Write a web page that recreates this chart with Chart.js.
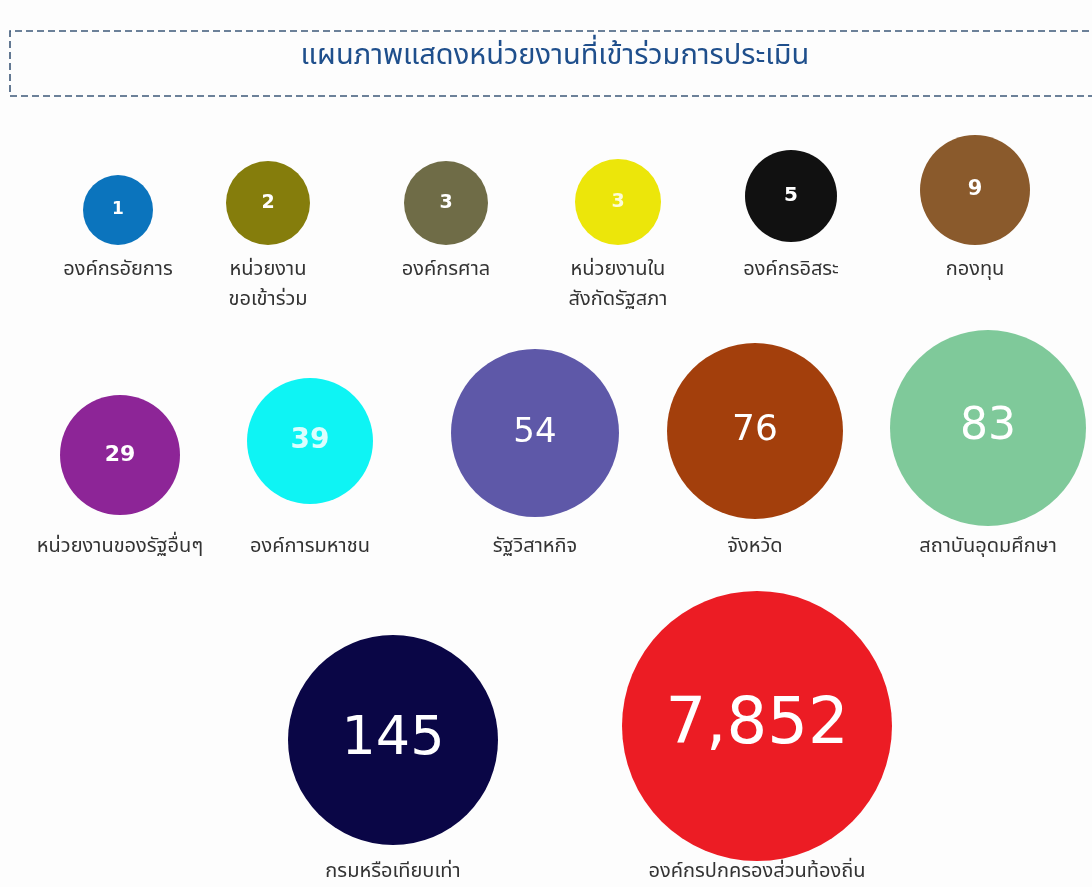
<!DOCTYPE html>
<html>
<head>
<meta charset="utf-8">
<script src="https://cdn.jsdelivr.net/npm/chart.js@4"></script>
<style>
  html, body { margin:0; padding:0; background:#fdfdfd; }
  #wrap { width:1092px; height:887px; position:relative; }
</style>
</head>
<body>
<div id="wrap"><canvas id="bubbles"></canvas></div>
<script>
  // data
  const agencies = [
    'องค์กรอัยการ', 'หน่วยงาน\nขอเข้าร่วม', 'องค์กรศาล', 'หน่วยงานใน\nสังกัดรัฐสภา', 'องค์กรอิสระ', 'กองทุน',
    'หน่วยงานของรัฐอื่นๆ', 'องค์การมหาชน', 'รัฐวิสาหกิจ', 'จังหวัด', 'สถาบันอุดมศึกษา',
    'กรมหรือเทียบเท่า', 'องค์กรปกครองส่วนท้องถิ่น'
  ];
  const counts = [1, 2, 3, 3, 5, 9, 29, 39, 54, 76, 83, 145, 7852];
  const colors = [
    '#0b74bd', '#857d0c', '#6f6c47', '#ece60a', '#111111', '#8a5a2c',
    '#8d2597', '#0ef4f4', '#5e58a8', '#a33f0c', '#7fc99a',
    '#0a0646', '#ec1c24'
  ];
  const chartTitle = 'แผนภาพแสดงหน่วยงานที่เข้าร่วมการประเมิน';

  // where each bubble sits on the page (px) and how big it is
  const slots = [
    [118, 210, 35], [268, 203, 42], [446, 203, 42], [618, 202, 43], [791, 196, 46], [975, 190, 55],
    [120, 455, 60], [310, 441, 63], [535, 433, 84], [755, 431, 88], [988, 428, 98],
    [393, 740, 105], [757, 726, 135]
  ];
  const numSize = [17, 19, 19, 19, 20, 21, 22, 28, 34, 36, 44, 54, 64];
  // distance from bubble bottom to label centre
  const labelGap = [26, 26, 26, 26, 29, 26, 33, 44, 31, 29, 22, 28, 12];

  const THFONT = '"Noto Sans Thai", "Noto Sans", "DejaVu Sans", sans-serif';

  const points = counts.map((v, i) => ({ x: slots[i][0], y: slots[i][1], r: slots[i][2], v: v }));

  const decorate = {
    id: 'decorate',
    beforeDraw(chart) {
      const ctx = chart.ctx;
      ctx.save();
      ctx.fillStyle = '#fdfdfd';
      ctx.fillRect(0, 0, chart.width, chart.height);
      // dashed title box
      ctx.strokeStyle = '#3d5878';
      ctx.lineWidth = 1.6;
      ctx.setLineDash([7, 4]);
      ctx.beginPath();
      ctx.moveTo(1100, 31);
      ctx.lineTo(10, 31);
      ctx.lineTo(10, 96);
      ctx.lineTo(1100, 96);
      ctx.stroke();
      ctx.setLineDash([]);
      ctx.fillStyle = '#1f4f8c';
      ctx.font = '29px ' + THFONT;
      ctx.textAlign = 'center';
      ctx.textBaseline = 'middle';
      ctx.fillText(chartTitle, 555, 58);
      ctx.restore();
    },
    afterDatasetsDraw(chart) {
      const ctx = chart.ctx;
      const meta = chart.getDatasetMeta(0);
      ctx.save();
      ctx.textAlign = 'center';
      ctx.textBaseline = 'middle';
      meta.data.forEach((el, i) => {
        const r = el.options.radius;
        ctx.fillStyle = (i === 3 || i === 7) ? 'rgba(255,255,255,0.85)' : '#ffffff';
        ctx.font = (i >= 8 ? '500 ' : 'bold ') + numSize[i] + 'px "DejaVu Sans", sans-serif';
        ctx.fillText(counts[i].toLocaleString('en-US'), el.x, el.y);
        ctx.fillStyle = '#333333';
        ctx.font = '20px ' + THFONT;
        agencies[i].split('\n').forEach((line, k) => {
          ctx.fillText(line, el.x, el.y + r + labelGap[i] + k * 30);
        });
      });
      ctx.restore();
    }
  };

  new Chart(document.getElementById('bubbles'), {
    type: 'bubble',
    data: {
      labels: agencies,
      datasets: [{
        data: points,
        backgroundColor: colors,
        borderWidth: 0,
        hoverRadius: 0,
        clip: false
      }]
    },
    options: {
      responsive: true,
      maintainAspectRatio: false,
      animation: false,
      layout: { padding: 0, autoPadding: false },
      plugins: { legend: { display: false }, tooltip: { enabled: false } },
      scales: {
        x: { type: 'linear', min: 0, max: 1092, display: false },
        y: { type: 'linear', min: 0, max: 887, reverse: true, display: false }
      }
    },
    plugins: [decorate]
  });
</script>
</body>
</html>
